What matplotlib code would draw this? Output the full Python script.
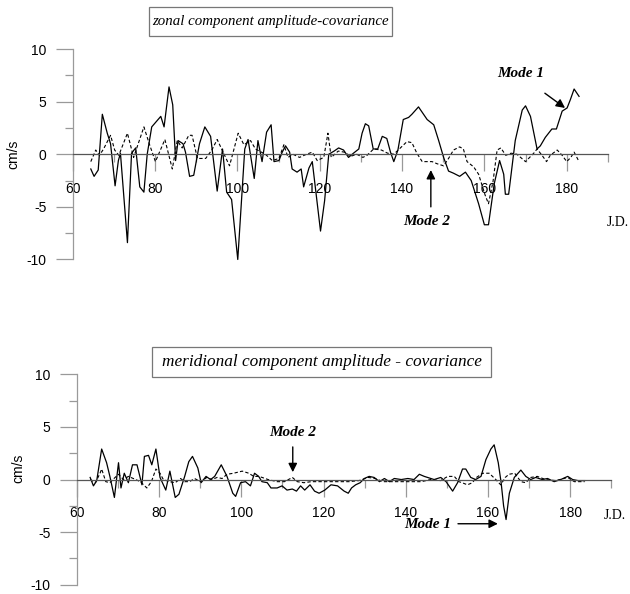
import matplotlib
matplotlib.use("Agg")
import matplotlib.pyplot as plt
from matplotlib.patches import Rectangle
from matplotlib.ticker import FixedLocator

# ---- data ----
zonal_m1_jd = [64.4, 65.2, 66.2, 67.2, 68.4, 69.2, 70.3, 71.1, 71.6, 73.3, 74.3, 75.3, 76.3, 77.3, 78.1,
               79.2, 81.4, 82.2, 83.4, 84.3, 85.0, 85.6, 86.8, 87.4, 88.4, 89.4, 90.8, 92.1, 93.5,
               95.1, 96.4, 97.4, 98.6, 100.1, 101.8, 102.6, 104.1, 105.0, 106.0, 107.1, 108.2, 108.9,
               110.1, 110.9, 111.7, 112.7, 113.3, 114.5, 115.5, 116.1, 117.4, 118.2, 120.2, 121.2,
               122.2, 123.5, 124.6, 125.8, 127.0, 128.2, 129.5, 130.3, 131.1, 131.9, 133.0, 134.1,
               135.2, 136.3, 137.2, 138.0, 139.0, 140.3, 141.6, 142.4, 144.0, 146.1, 147.7, 148.9,
               150.1, 151.3, 152.5, 154.0, 155.4, 156.8, 158.6, 160.0, 161.0, 162.4, 163.7, 164.7,
               165.1, 165.9, 167.5, 169.2, 170.0, 171.2, 172.8, 173.6, 174.8, 176.4, 177.5, 178.9,
               180.1, 180.9, 181.8, 183.0]
zonal_m1 = [-1.4, -2.1, -1.5, 3.8, 2.0, 1.0, -3.0, -0.6, 0.1, -8.4, 0.1, 0.6, -3.1, -3.6, 0.0,
            2.6, 3.6, 2.6, 6.4, 4.7, -0.6, 1.3, 1.0, 0.2, -2.1, -2.0, 1.0, 2.6, 1.7,
            -3.5, 0.5, -3.6, -4.3, -10.0, 0.5, 1.4, -2.3, 1.3, -0.7, 2.1, 2.8, -0.7,
            -0.6, 0.2, 0.8, 0.2, -1.4, -1.7, -1.4, -3.1, -1.3, -0.7, -7.3, -4.4,
            0.0, 0.3, 0.6, 0.4, -0.3, 0.1, 0.5, 2.0, 2.9, 2.7, 0.5, 0.5,
            1.7, 1.5, 0.2, -0.7, 0.4, 3.3, 3.5, 3.8, 4.5, 3.3, 2.8, 1.3,
            -0.3, -1.6, -1.8, -2.1, -1.7, -2.5, -4.7, -6.7, -6.7, -2.8, -0.6, -1.9,
            -3.8, -3.8, 1.3, 4.2, 4.6, 3.6, 0.5, 0.8, 1.6, 2.4, 2.4, 4.1,
            4.4, 5.2, 6.2, 5.5]

zonal_m2_jd = [64.4, 65.6, 66.5, 67.5, 69.2, 70.2, 71.2, 73.3, 74.8, 77.3, 78.6, 80.1, 82.4, 84.2,
               85.4, 86.6, 88.2, 89.0, 90.3, 92.3, 93.8, 95.1, 96.3, 98.1, 100.2, 101.6, 103.2,
               104.4, 106.8, 108.5, 110.1, 111.3, 112.3, 113.5, 115.1, 116.8, 118.2, 119.4, 121.0,
               122.0, 122.8, 124.5, 126.0, 127.5, 129.0, 130.5, 131.5, 133.1, 135.0, 136.5, 138.0,
               139.6, 141.2, 142.4, 143.6, 144.9, 147.3, 148.5, 150.1, 151.3, 152.5, 154.0, 154.9,
               155.8, 157.4, 158.6, 160.2, 161.0, 162.1, 163.1, 164.0, 165.2, 166.5, 167.9, 168.8,
               170.0, 172.0, 172.8, 174.0, 175.1, 176.0, 177.7, 178.9, 180.0, 181.0, 181.8, 183.0]
zonal_m2 = [-0.7, 0.4, -0.1, 0.5, 1.8, 0.4, -0.1, 2.0, -0.3, 2.6, 1.0, -0.7, 1.4, -1.4,
            1.3, 0.6, 1.8, 1.8, -0.4, -0.4, 0.4, 1.4, 0.4, -1.1, 2.0, 0.9, 1.3,
            0.5, 0.0, -0.6, -0.4, 0.9, -0.3, 0.0, -0.3, 0.0, 0.2, -0.6, -0.3,
            2.0, -0.3, 0.3, 0.2, -0.2, 0.0, -0.3, -0.1, 0.5, 0.4, 0.1, 0.0,
            0.6, 1.2, 1.1, 0.1, -0.7, -0.7, -0.9, -1.1, -0.4, 0.4, 0.7, 0.5,
            -0.7, -1.2, -1.9, -3.9, -4.7, -2.6, 0.4, 0.6, -0.1, 0.1, 0.0, -0.3,
            -0.7, 0.1, 0.5, -0.1, -0.7, -0.1, 0.4, -0.1, -0.7, -0.3, 0.2, -0.7]

merid_m1_jd = [63.2, 64.0, 64.8, 66.0, 67.2, 68.0, 69.1, 70.1, 70.7, 71.5, 72.5, 73.5, 74.6, 75.8,
               76.4, 77.4, 78.2, 79.2, 80.2, 81.6, 82.6, 83.9, 84.8, 86.2, 87.2, 88.1, 89.4, 90.2,
               91.4, 92.5, 93.5, 95.1, 96.5, 97.9, 98.6, 99.8, 101.0, 102.2, 103.2, 104.2, 105.0,
               106.3, 107.2, 108.7, 109.9, 111.1, 112.4, 113.4, 114.4, 115.4, 116.7, 117.8, 118.9,
               120.3, 121.8, 123.4, 125.0, 126.0, 126.8, 127.8, 128.9, 129.9, 131.1, 132.3, 133.6,
               134.8, 136.0, 137.2, 138.9, 140.5, 142.0, 143.3, 144.5, 146.9, 148.5, 149.8, 151.4,
               152.6, 153.8, 154.6, 155.8, 157.0, 158.3, 159.5, 160.7, 161.5, 162.5, 163.2, 163.8,
               164.4, 165.2, 166.4, 168.0, 169.2, 170.4, 171.6, 173.2, 174.5, 176.1, 177.7, 179.4,
               180.6, 181.9, 183.5]
merid_m1 = [0.2, -0.6, -0.1, 2.9, 1.6, 0.3, -1.7, 1.6, -0.8, 0.6, -0.3, 1.4, 1.4, -0.5,
            2.2, 2.3, 1.4, 2.9, 0.2, -1.0, 0.8, -1.7, -1.4, 0.3, 1.7, 2.2, 1.1, -0.3,
            0.3, 0.0, 0.3, 1.4, 0.3, -1.3, -1.6, -0.3, -0.2, -0.6, 0.6, 0.3, -0.2,
            -0.3, -0.8, -0.8, -0.6, -1.0, -0.9, -1.1, -0.6, -1.0, -0.5, -1.1, -1.3,
            -1.0, -0.5, -0.6, -1.1, -1.3, -0.8, -0.5, -0.3, 0.1, 0.3, 0.2, -0.2,
            0.1, -0.2, 0.1, 0.0, 0.1, 0.0, 0.5, 0.3, 0.0, 0.2, -0.2, -1.1,
            -0.3, 1.0, 1.0, 0.2, 0.0, 0.3, 1.9, 2.9, 3.3, 1.6, -0.3, -2.5,
            -3.8, -1.3, 0.2, 0.9, 0.3, 0.0, 0.2, 0.0, 0.1, -0.2, 0.0, 0.3,
            0.0, -0.1, -0.1]

merid_m2_jd = [63.2, 64.5, 65.6, 66.0, 67.0, 68.0, 69.0, 70.1, 71.3, 72.5, 73.7, 75.4, 77.0, 78.1,
               79.2, 80.2, 81.0, 82.5, 83.9, 85.2, 86.2, 87.4, 88.6, 90.0, 91.6, 92.8, 94.1, 95.3,
               96.5, 98.1, 100.2, 101.8, 103.0, 104.3, 106.5, 108.7, 110.5, 112.4, 113.6, 115.2,
               117.0, 118.9, 121.3, 123.8, 126.2, 128.6, 130.9, 132.5, 134.5, 136.9, 139.3, 141.7,
               143.8, 146.0, 148.5, 150.2, 151.8, 152.9, 153.7, 155.0, 156.2, 157.2, 158.7, 160.3,
               161.9, 163.1, 164.2, 165.1, 166.5, 168.0, 169.2, 170.4, 172.0, 174.0, 176.5, 179.4,
               181.0, 183.5]
merid_m2 = [0.0, -0.3, 0.6, 1.0, -0.2, -0.3, 0.1, 0.5, 0.0, 0.3, 0.1, -0.2, -0.8, -0.2,
            1.0, 0.6, 0.0, -0.2, -0.3, 0.1, -0.2, -0.2, 0.1, -0.2, 0.2, 0.0, 0.2, 0.1,
            0.5, 0.6, 0.8, 0.6, 0.3, 0.3, 0.0, -0.2, -0.2, 0.2, -0.2, -0.3,
            -0.2, -0.2, -0.2, -0.2, -0.2, -0.1, 0.2, 0.1, -0.2, -0.2, -0.2, -0.2,
            -0.2, 0.0, -0.1, 0.3, 0.3, -0.2, -0.3, -0.5, -0.3, 0.2, 0.6, 0.6,
            0.0, -0.5, 0.2, 0.5, 0.6, -0.2, -0.3, 0.2, 0.3, 0.0, -0.1, 0.2,
            -0.2, -0.2]

x_major = [60, 80, 100, 120, 140, 160, 180]
x_minor = [70, 90, 110, 130, 150, 170, 190]
y_major = [-10, -5, 0, 5, 10]
y_minor = [-7.5, -2.5, 2.5, 7.5]

W, H = 630, 594
SANS = "Liberation Sans"
SERIF = "Liberation Serif"

fig = plt.figure(figsize=(W / 100, H / 100), dpi=100)


def px_axes(left, top, right, bottom):
    return fig.add_axes([left / W, 1 - bottom / H, (right - left) / W, (bottom - top) / H])


def style(ax, label_pad):
    ax.set_xlim(55, 192)
    ax.set_ylim(-11, 11)
    ax.set_facecolor("none")
    for s in ("top", "right"):
        ax.spines[s].set_visible(False)
    ax.spines["left"].set_position(("data", 60))
    ax.spines["left"].set_bounds(-10, 10)
    ax.spines["left"].set_color("#9a9a9a")
    ax.spines["bottom"].set_position(("data", 0))
    ax.spines["bottom"].set_bounds(60, 190)
    ax.spines["bottom"].set_color("#555555")
    for s in ("left", "bottom"):
        ax.spines[s].set_linewidth(0.9)
    ax.xaxis.set_major_locator(FixedLocator(x_major))
    ax.xaxis.set_minor_locator(FixedLocator(x_minor))
    ax.yaxis.set_major_locator(FixedLocator(y_major))
    ax.yaxis.set_minor_locator(FixedLocator(y_minor))
    ax.set_yticklabels([str(v) for v in y_major])
    ax.tick_params(axis="x", which="major", length=12, width=0.9, color="#999999",
                   pad=label_pad, labelsize=10)
    ax.tick_params(axis="x", which="minor", length=5.5, width=0.9, color="#999999")
    ax.tick_params(axis="y", which="major", length=12, width=0.9, color="#999999",
                   pad=7, labelsize=10)
    ax.tick_params(axis="y", which="minor", length=5.5, width=0.9, color="#999999")
    for lab in ax.get_xticklabels() + ax.get_yticklabels():
        lab.set_fontfamily(SANS)
    ax.set_ylabel("cm/s", fontsize=10, fontfamily=SANS)


def boxed_title(text, left, top, right, bottom, size):
    fig.patches.append(Rectangle((left / W, 1 - bottom / H), (right - left) / W, (bottom - top) / H,
                                 transform=fig.transFigure, fill=False, ec="#777777", lw=0.9))
    fig.text((left + right) / 2 / W, 1 - (top + bottom) / 2 / H, text, ha="center", va="center",
             fontsize=size, fontfamily=SERIF, style="italic")


arrow = dict(arrowstyle="-|>", color="black", lw=1.0, mutation_scale=13, shrinkA=0, shrinkB=0)
mode_font = dict(fontsize=11, fontfamily=SERIF, style="italic", weight="bold", ha="center", va="center")

# ---- top panel: zonal ----
ax1 = px_axes(52.1, 38.5, 616.1, 270.0)
style(ax1, label_pad=8)
ax1.plot(zonal_m1_jd, zonal_m1, color="black", lw=0.9)
ax1.plot(zonal_m2_jd, zonal_m2, color="black", lw=0.8, ls=(0, (3, 2)))
ax1.yaxis.set_label_coords(-0.056, 0.5)
ax1.text(192.3, -6.5, "J.D.", fontsize=10, fontfamily=SERIF, ha="center", va="center")
ax1.text(168.9, 7.7, "Mode 1", **mode_font)
ax1.annotate("", xy=(179.6, 4.4), xytext=(174.7, 5.8), arrowprops=arrow)
ax1.text(145.9, -6.4, "Mode 2", **mode_font)
ax1.annotate("", xy=(147.0, -1.5), xytext=(147.0, -5.0), arrowprops=arrow)
boxed_title("zonal component amplitude-covariance", 149, 7, 392, 36, 10.7)

# ---- bottom panel: meridional ----
ax2 = px_axes(56.45, 363.8, 619.5, 595.3)
style(ax2, label_pad=7)
ax2.plot(merid_m1_jd, merid_m1, color="black", lw=0.9)
ax2.plot(merid_m2_jd, merid_m2, color="black", lw=0.8, ls=(0, (3, 2)))
ax2.yaxis.set_label_coords(-0.056, 0.55)
ax2.text(190.9, -3.4, "J.D.", fontsize=10, fontfamily=SERIF, ha="center", va="center")
ax2.text(112.6, 4.5, "Mode 2", **mode_font)
ax2.annotate("", xy=(112.5, 0.7), xytext=(112.5, 3.1), arrowprops=arrow)
ax2.text(145.4, -4.3, "Mode 1", **mode_font)
ax2.annotate("", xy=(162.4, -4.2), xytext=(152.7, -4.2), arrowprops=arrow)
boxed_title("meridional component amplitude - covariance", 152, 347, 491, 377, 12.4)

fig.savefig("out.png", dpi=100, facecolor="white")
